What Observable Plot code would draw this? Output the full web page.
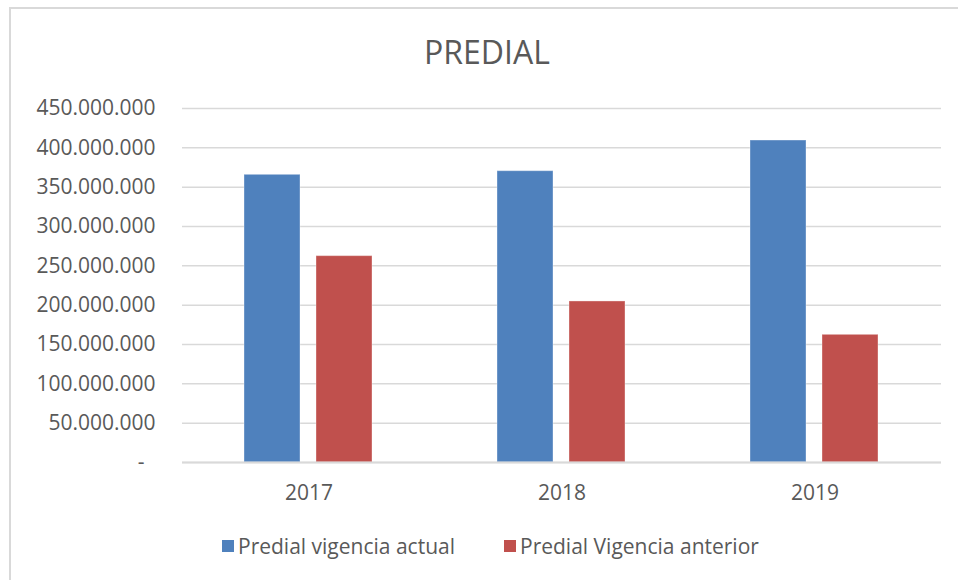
<!DOCTYPE html>
<html>
<head>
<meta charset="utf-8">
<script src="https://cdn.jsdelivr.net/npm/d3@7"></script>
<script src="https://cdn.jsdelivr.net/npm/@observablehq/plot@0.6"></script>
<style>
  html, body { margin: 0; padding: 0; background: #fff; }
  #wrap { position: relative; width: 958px; height: 580px; overflow: hidden; background: #fff; font-family: "Open Sans", sans-serif; color: #595959; }
  #frame { position: absolute; left: 9px; top: 7px; width: 1000px; height: 700px; border-left: 2px solid #d9d9d9; border-top: 2px solid #d9d9d9; }
  #title { position: absolute; left: 10px; width: 954px; top: 29px; text-align: center; font-size: 32px; line-height: 46px; color: #595959; }
  #chart { position: absolute; left: 0; top: 0; }
  #legend { position: absolute; left: 222px; top: 532px; display: flex; align-items: center; font-size: 21px; line-height: 28px; color: #595959; }
  .item { display: flex; align-items: center; margin-right: 49px; }
  .sw { width: 12px; height: 12px; margin-right: 4px; }
</style>
</head>
<body>
<div id="wrap">
  <div id="frame"></div>
  <div id="chart"></div>
  <div id="title"></div>
  <div id="legend"></div>
</div>
<script>
const chartTitle = "PREDIAL";
const years = ["2017", "2018", "2019"];
const seriesNames = ["Predial vigencia actual", "Predial Vigencia anterior"];
const vigenciaActual = [365.7e6, 370.3e6, 409.3e6];
const vigenciaAnterior = [262.3e6, 204.7e6, 162.3e6];
const yTicks = [0, 50e6, 100e6, 150e6, 200e6, 250e6, 300e6, 350e6, 400e6, 450e6];
const seriesColors = ["#4F81BD", "#C0504D"];

const data = [];
years.forEach((yr, i) => {
  data.push({year: yr, series: seriesNames[0], value: vigenciaActual[i]});
  data.push({year: yr, series: seriesNames[1], value: vigenciaAnterior[i]});
});

const fmt = v => v === 0 ? "-\u00a0\u00a0" : d3.format(",.0f")(v).replace(/,/g, ".");

const plot = Plot.plot({
  width: 958,
  height: 580,
  marginTop: 108,
  marginBottom: 118,
  marginLeft: 182,
  marginRight: 17,
  style: {fontFamily: "Open Sans, sans-serif", fontSize: "21px", color: "#595959", background: "transparent"},
  fx: {domain: years, padding: 0, label: null, axis: "bottom", tickSize: 0, tickPadding: 23},
  x: {domain: seriesNames, axis: null, paddingInner: 0.222, paddingOuter: 0.866},
  y: {domain: [0, 450e6], axis: null},
  color: {domain: seriesNames, range: seriesColors},
  marks: [
    Plot.gridY(yTicks, {stroke: "#d9d9d9", strokeOpacity: 1, strokeWidth: 1.5}),
    Plot.axisY(yTicks, {tickSize: 0, tickPadding: 27, tickFormat: fmt, label: null}),
    Plot.barY(data, {fx: "year", x: "series", y: "value", fill: "series", stroke: "#ffffff", strokeOpacity: 0.35, strokeWidth: 1}),
    Plot.ruleY([0], {stroke: "#d9d9d9", strokeWidth: 2})
  ]
});
document.getElementById("chart").appendChild(plot);
document.getElementById("title").textContent = chartTitle;

const legend = document.getElementById("legend");
seriesNames.forEach((name, i) => {
  const item = document.createElement("div");
  item.className = "item";
  const sw = document.createElement("div");
  sw.className = "sw";
  sw.style.background = seriesColors[i];
  const t = document.createElement("span");
  t.textContent = name;
  item.appendChild(sw);
  item.appendChild(t);
  legend.appendChild(item);
});
</script>
</body>
</html>
